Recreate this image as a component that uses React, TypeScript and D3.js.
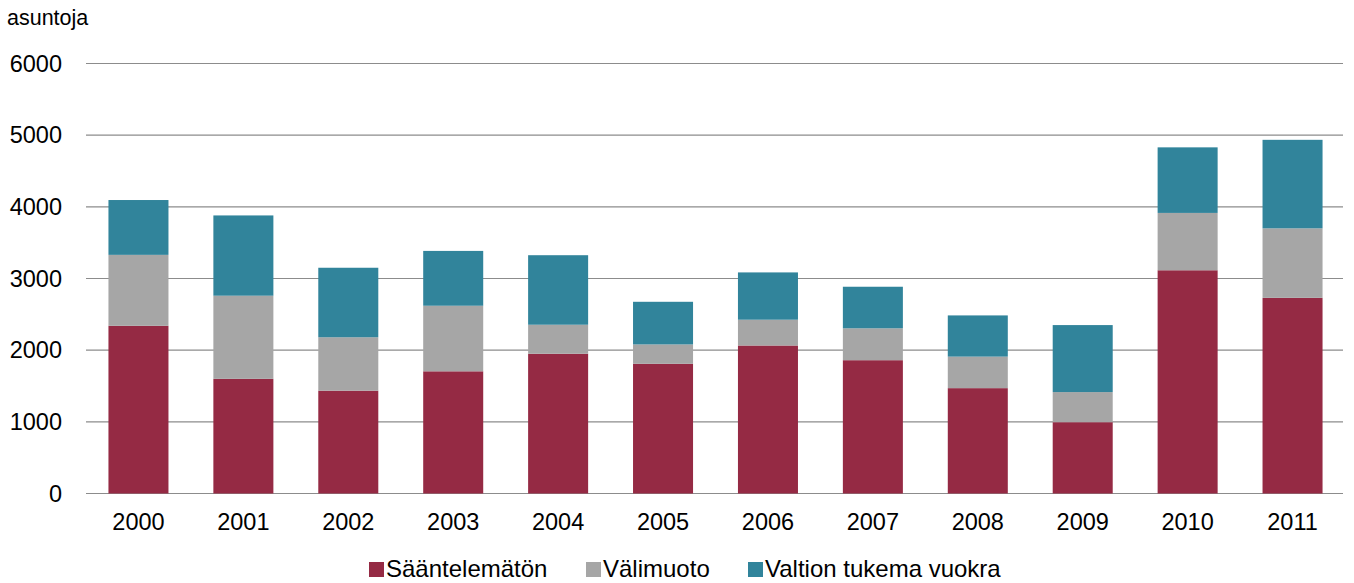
import React from "react";
import * as d3 from "d3";

const years = ["2000","2001","2002","2003","2004","2005","2006","2007","2008","2009","2010","2011"];
const saantelematon = [2340,1600,1435,1705,1950,1810,2065,1860,1470,995,3115,2730];
const valimuoto = [990,1160,745,915,405,270,360,445,440,420,800,970];
const valtionTukema = [765,1120,970,765,970,595,660,580,575,935,915,1235];
const seriesNames = ["Sääntelemätön","Välimuoto","Valtion tukema vuokra"];
const seriesColors = ["#952A44","#A6A6A6","#31849B"];
const yTicks = [0,1000,2000,3000,4000,5000,6000];
const yTitle = "asuntoja";

const W = 1354, H = 583;
const left = 86, right = 1345, top = 63.5, bottom = 493.5;
const FONT = "'Liberation Sans', Arial, sans-serif";

export default function App() {
  const rows = years.map((y, i) => ({
    year: y,
    s0: saantelematon[i],
    s1: valimuoto[i],
    s2: valtionTukema[i],
  }));
  const stack = d3.stack<any>().keys(["s0","s1","s2"]);
  const layers = stack(rows);
  const x = d3.scaleBand<string>().domain(years).range([left, right]).paddingInner(0.428).paddingOuter(0.214);
  const y = d3.scaleLinear().domain([0, 6000]).range([bottom, top]);

  const legendX = [369, 586, 748];

  return (
    <svg width={W} height={H} style={{ position: "absolute", left: 0, top: 0, background: "#fff" }} fontFamily={FONT}>
      <rect x={0} y={0} width={W} height={H} fill="#fff" />
      <text x={7} y={25} fontSize={21.5} fill="#000">{yTitle}</text>
      {yTicks.map((t) => (
        <g key={t}>
          <line x1={left} x2={1343} y1={y(t)} y2={y(t)} stroke="#8c8c8c" strokeWidth={1.2} />
          <text x={62} y={y(t)} dy="0.35em" textAnchor="end" fontSize={23.5} fill="#000">{t}</text>
        </g>
      ))}
      {layers.map((layer, li) => (
        <g key={li} fill={seriesColors[li]}>
          {layer.map((d: any, i: number) => (
            <rect key={i} x={x(years[i])} width={x.bandwidth()} y={y(d[1])} height={y(d[0]) - y(d[1])} />
          ))}
        </g>
      ))}
      {years.map((yr) => (
        <text key={yr} x={(x(yr) as number) + x.bandwidth() / 2} y={530} textAnchor="middle" fontSize={23.5} fill="#000">{yr}</text>
      ))}
      {seriesNames.map((n, i) => (
        <g key={n}>
          <rect x={legendX[i]} y={562} width={15} height={15} fill={seriesColors[i]} />
          <text x={legendX[i] + 17} y={577} fontSize={24} fill="#000">{n}</text>
        </g>
      ))}
    </svg>
  );
}
